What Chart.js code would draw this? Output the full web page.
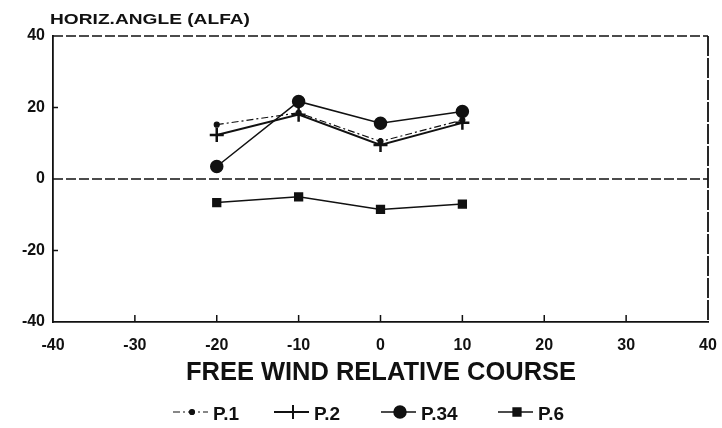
<!DOCTYPE html>
<html><head><meta charset="utf-8">
<script src="https://cdn.jsdelivr.net/npm/chart.js@4.4.1/dist/chart.umd.min.js"></script>
<style>html,body{margin:0;padding:0;background:#fff}#wrap{width:722px;height:428px}</style>
</head><body><div id="wrap"><canvas id="c" width="722" height="428"></canvas></div>
<script>
const courses = [-20, -10, 0, 10];
const p1 = [15.2, 18.5, 10.5, 16.5];
const p2 = [12.3, 18.0, 9.5, 15.7];
const p34 = [3.5, 21.7, 15.6, 18.9];
const p6 = [-6.6, -5.0, -8.5, -7.0];
const seriesNames = ['P.1', 'P.2', 'P.34', 'P.6'];
const xTicks = [-40, -30, -20, -10, 0, 10, 20, 30, 40];
const yTicks = [-40, -20, 0, 20, 40];
const yTitle = 'HORIZ.ANGLE (ALFA)';
const xTitle = 'FREE WIND RELATIVE COURSE';

const FONT = '"Liberation Sans", Arial, sans-serif';
const ink = '#111';
const pts = arr => courses.map((x, i) => ({x, y: arr[i]}));

const datasets = [
  {label: seriesNames[0], data: pts(p1), borderColor: ink, backgroundColor: ink, borderWidth: 1.2, borderDash: [7,3,2,3], pointStyle: 'circle', pointRadius: 2.5},
  {label: seriesNames[1], data: pts(p2), borderColor: ink, backgroundColor: ink, borderWidth: 2, pointStyle: 'cross', pointRadius: 7, pointBorderWidth: 2.5},
  {label: seriesNames[2], data: pts(p34), borderColor: ink, backgroundColor: ink, borderWidth: 1.5, pointStyle: 'circle', pointRadius: 6},
  {label: seriesNames[3], data: pts(p6), borderColor: ink, backgroundColor: ink, borderWidth: 1.5, pointStyle: 'rect', pointRadius: 5.5}
];

function fitText(ctx, text, x, y, width) {
  const w = ctx.measureText(text).width;
  ctx.save();
  ctx.translate(x, y);
  ctx.scale(width / w, 1);
  ctx.fillText(text, 0, 0);
  ctx.restore();
}

const decor = {
  id: 'decor',
  beforeDatasetsDraw(chart) {
    const {ctx, chartArea: a, scales: {x, y}} = chart;
    ctx.save();
    ctx.strokeStyle = ink;
    ctx.lineWidth = 1.5;
    ctx.setLineDash([10, 3]);
    ctx.beginPath();
    ctx.moveTo(a.left, a.top); ctx.lineTo(a.right, a.top);
    const y0 = y.getPixelForValue(0);
    ctx.moveTo(a.left, y0); ctx.lineTo(a.right, y0);
    ctx.stroke();
    ctx.setLineDash([20, 2]);
    ctx.lineWidth = 1.8;
    ctx.beginPath();
    ctx.moveTo(a.right, a.top); ctx.lineTo(a.right, a.bottom);
    ctx.stroke();
    ctx.setLineDash([]);
    ctx.lineWidth = 1.5;
    ctx.beginPath();
    xTicks.forEach(v => { if (v > -40 && v < 40) { const px = x.getPixelForValue(v); ctx.moveTo(px, a.bottom); ctx.lineTo(px, a.bottom - 7); } });
    yTicks.forEach(v => { if (v > -40 && v < 40 && v !== 0) { const py = y.getPixelForValue(v); ctx.moveTo(a.left, py); ctx.lineTo(a.left + 5, py); } });
    ctx.stroke();
    ctx.restore();
  },
  afterDraw(chart) {
    const {ctx} = chart;
    ctx.save();
    ctx.fillStyle = ink;
    ctx.textBaseline = 'alphabetic';
    ctx.textAlign = 'left';
    ctx.font = 'bold 15px ' + FONT;
    fitText(ctx, yTitle, 50, 24, 200);
    ctx.font = 'bold 25px ' + FONT;
    fitText(ctx, xTitle, 186, 380, 390);
    // legend
    const items = [[192, 0], [293, 1], [400, 2], [517, 3]];
    ctx.font = 'bold 19px ' + FONT;
    const ly = 412;
    items.forEach(([cx, i]) => {
      const ds = chart.data.datasets[i];
      ctx.strokeStyle = ink; ctx.fillStyle = ink; ctx.lineWidth = ds.borderWidth;
      ctx.setLineDash(ds.borderDash || []);
      ctx.beginPath(); ctx.moveTo(cx - 19, ly); ctx.lineTo(cx + 16, ly); ctx.stroke();
      ctx.setLineDash([]);
      Chart.helpers.drawPoint(ctx, {pointStyle: ds.pointStyle, radius: ds.pointRadius, borderWidth: ds.pointBorderWidth || 1}, cx, ly);
      ctx.fill();
      ctx.fillText(ds.label, cx + 21, ly + 8);
    });
    ctx.restore();
  }
};

new Chart(document.getElementById('c'), {
  type: 'line',
  data: {datasets},
  plugins: [decor],
  options: {
    responsive: false,
    animation: false,
    devicePixelRatio: 1,
    layout: {padding: {left: 0, right: 14, top: 36, bottom: 0}},
    plugins: {legend: {display: false}, tooltip: {enabled: false}},
    scales: {
      x: {
        type: 'linear', min: -40, max: 40,
        afterBuildTicks: s => { s.ticks = xTicks.map(v => ({value: v})); },
        afterFit: s => { s.height = 106; s.paddingLeft = 0; s.paddingRight = 0; },
        grid: {display: false, drawTicks: false},
        border: {display: true, color: ink, width: 1.8},
        ticks: {color: ink, font: {family: FONT, size: 16, weight: 'bold'}, padding: 14, maxRotation: 0}
      },
      y: {
        type: 'linear', min: -40, max: 40,
        afterBuildTicks: s => { s.ticks = yTicks.map(v => ({value: v})); },
        afterFit: s => { s.width = 53; s.paddingTop = 0; s.paddingBottom = 0; },
        grid: {display: false, drawTicks: false},
        border: {display: true, color: ink, width: 1.8},
        ticks: {color: ink, font: {family: FONT, size: 16, weight: 'bold'}, padding: 8}
      }
    }
  }
});
</script></body></html>
